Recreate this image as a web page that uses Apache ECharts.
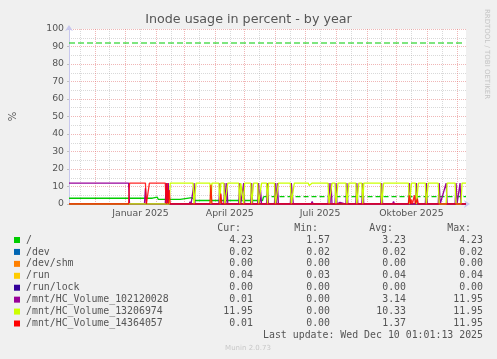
<!DOCTYPE html>
<html><head><meta charset="utf-8">
<script src="https://cdn.jsdelivr.net/npm/echarts@6/dist/echarts.min.js"></script>
<style>html,body{margin:0;padding:0;background:#f0f0f0;}#c{width:497px;height:359px;}</style>
</head><body><div id="c"></div>
<script>
// ---- time frame (days from 2024-11-05, 400 days) ----
const START = Date.UTC(2024, 10, 5);
const DAYS = 400;
const monthNames = ['Januar','Februar','März','April','Mai','Juni','Juli','August','September','Oktober','November','Dezember'];
const majorMonths = [[2024,12],[2025,1],[2025,2],[2025,3],[2025,4],[2025,5],[2025,6],[2025,7],[2025,8],[2025,9],[2025,10],[2025,11],[2025,12]];
const minorMonths = [[2024,11],[2024,12],[2025,1],[2025,2],[2025,3],[2025,4],[2025,5],[2025,6],[2025,7],[2025,8],[2025,9],[2025,10],[2025,11]];
const labelMonths = [[2025,1],[2025,4],[2025,7],[2025,10]];

// ---- legend table ----
const fieldNames = ['/', '/dev', '/dev/shm', '/run', '/run/lock', '/mnt/HC_Volume_102120028', '/mnt/HC_Volume_13206974', '/mnt/HC_Volume_14364057'];
const fieldColors = ['#00cc00', '#0066b3', '#ff8000', '#ffcc00', '#330099', '#990099', '#ccff00', '#ff0000'];
const curVals = ['4.23', '0.02', '0.00', '0.04', '0.00', '0.01', '11.95', '0.01'];
const minVals = ['1.57', '0.02', '0.00', '0.03', '0.00', '0.00', '0.00', '0.00'];
const avgVals = ['3.23', '0.02', '0.00', '0.04', '0.00', '3.14', '10.33', '1.37'];
const maxVals = ['4.23', '0.02', '0.00', '0.04', '0.00', '11.95', '11.95', '11.95'];
const warningData = [[0,92],[396,92]];

// ---- series data: [day offset, percent] ----
const rootSolid = [[0,3.3],[84,3.3],[85,3.9],[89,3.9],[90,2.6],[112,2.6],[114,3.6],[124,3.6],[127,2.0],[195,2.0],[196,4.2]];
const rootDashed = [[196,4.2],[300,4.2],[400,4.23]];
const devData = [[0,0.02],[400,0.02]];
const shmData = [[0,0],[400,0]];
const runData = [[0,0.04],[400,0.04]];
const lockData = [[0,0],[400,0]];
const vol102Data = [[0,11.95],[60,11.95],[61,0],[76,0],[77,9],[78,0],[97,0],[98,11.95],[99,0],[100,11.95],[101,0],
  [121,0],[122,1.2],[123,0],[125,0],[126,11.95],[127,0],[151,0],[152,11.95],[153,0],[156,0],[157,11.95],[158,0],[159,11.95],[160,0],
  [171,0],[172,11.95],[173,0],[175,0],[176,11.95],[177,0],[183,0],[184,11.95],[185,0],[190,0],[191,11.95],[192,0],[193,8],[194,0],
  [199,0],[200,11.95],[201,0],[207,0],[208,11.95],[209,0],[210,11.95],[211,0],[223,0],[224,11.95],[226,0],
  [244,0],[245,1.5],[246,0],[261,0],[262,11.95],[263,0],[264,11.95],[265,0],[268,0],[269,11.95],[270,0],[272,0],[273,1],[274,0],
  [279,0],[280,11.95],[281,0],[289,0],[290,11.95],[291,0],[295,0],[296,11.95],[297,0],[314,0],[315,11.95],[316,0],
  [326,0],[327,1.5],[328,0],[342,0],[343,11.95],[344,0],[349,0],[350,11.95],[351,0],[359,0],[360,11.95],[361,0],
  [372,0],[373,11.95],[374,0],[380,11.95],[381,0],[389,0],[390,11.95],[391,0],[394,11.95],[395,0],[400,0.01]];
const vol132Data = [[0,0],[101,0],[102,11.95],[125,11.95],[126,0],[127,0],[128,11.95],[142,11.95],[143,0],[144,11.95],
  [151,11.95],[152,0],[153,11.95],[156,11.95],[157,0],[159,0],[160,11.95],[171,11.95],[172,0],[173,11.95],[175,11.95],[176,0],[177,11.95],
  [183,11.95],[184,0],[185,0],[186,11.95],[190,11.95],[191,0],[193,0],[194,11.95],[199,11.95],[200,0],[201,11.95],
  [207,11.95],[208,0],[210,0],[211,11.95],[223,11.95],[224,0],[226,0],[227,11.95],[241,11.95],[242,10.5],[244,10.5],[245,11.95],
  [261,11.95],[262,0],[264,0],[265,11.95],[268,11.95],[269,0],[270,0],[271,11.95],[279,11.95],[280,0],[281,0],[282,11.95],
  [289,11.95],[290,0],[291,0],[292,11.95],[295,11.95],[296,0],[297,11.95],[314,11.95],[315,0],[316,0],[317,11.95],
  [342,11.95],[343,0],[344,0],[345,11.95],[349,11.95],[350,0],[351,0],[352,11.95],[359,11.95],[360,0],[361,0],[362,11.95],
  [372,11.95],[373,0],[380,0],[381,11.95],[389,11.95],[390,0],[395,0],[396,11.95],[400,11.95]];
const vol143Data = [[0,0],[60,0],[61,11.95],[77,11.95],[78,0],[80,0],[81,11.95],[97,11.95],[98,0],[99,11.95],[100,0],[101,8],[102,0],
  [142,0],[143,11],[144,0],[152,0],[153,6],[154,0],[342,0],[343,5],[344,0],[345,2.5],[346,0],[348,5],[349,0],[351,3],[352,0],[400,0.01]];

const dayOf = (y, m, d) => (Date.UTC(y, m - 1, d) - START) / 864e5;
const majorDays = majorMonths.map(p => dayOf(p[0], p[1], 1));
const minorDays = minorMonths.map(p => dayOf(p[0], p[1], 16));
const labelDays = labelMonths.map(p => dayOf(p[0], p[1], 16));
const fmtDay = v => { const d = new Date(START + v * 864e5); return monthNames[d.getUTCMonth()] + ' ' + d.getUTCFullYear(); };

const FONT = 'DejaVu Sans', MONO = 'DejaVu Sans Mono', TXT = '#555';
const AXIS = '#c8c8ee', MAJ = 'rgba(225,110,110,0.5)', MIN = 'rgba(160,160,160,0.4)';
const LW = 1.3;

const line = (name, data, color, extra) => Object.assign({
  type: 'line', name, data, symbol: 'none', xAxisIndex: 0, yAxisIndex: 0,
  lineStyle: { color, width: LW }, itemStyle: { color }, animation: false, silent: true
}, extra || {});

const series = [
  line('warning', warningData, '#00cc00', { lineStyle: { color: '#00cc00', width: 1.2, type: [6, 3] } }),
  line('/', rootSolid, fieldColors[0]),
  line('/', rootDashed, fieldColors[0], { lineStyle: { color: fieldColors[0], width: LW, type: [5, 3] } }),
  line(fieldNames[1], devData, fieldColors[1]),
  line(fieldNames[2], shmData, fieldColors[2]),
  line(fieldNames[3], runData, fieldColors[3]),
  line(fieldNames[4], lockData, fieldColors[4]),
  line(fieldNames[5], vol102Data, fieldColors[5]),
  line(fieldNames[6], vol132Data, fieldColors[6]),
  line(fieldNames[7], vol143Data, fieldColors[7], { lineStyle: { color: fieldColors[7], width: LW, opacity: 0.85 } })
];

// legend graphics
const graphic = [];
const txt = (x, y, text, opts) => graphic.push({ type: 'text', x, y, silent: true,
  style: Object.assign({ text, fontFamily: MONO, fontSize: 9.9, fill: TXT, align: 'right', verticalAlign: 'middle' }, opts || {}) });
txt(241, 228, 'Cur:'); txt(318, 228, 'Min:'); txt(393, 228, 'Avg:'); txt(471, 228, 'Max:');
fieldNames.forEach((n, i) => {
  const y = 240 + 11.93 * i;
  graphic.push({ type: 'rect', silent: true, shape: { x: 14, y: y - 3, width: 6, height: 6 }, style: { fill: fieldColors[i] } });
  txt(26, y, n, { align: 'left' });
  txt(253, y, curVals[i]); txt(330, y, minVals[i]); txt(406, y, avgVals[i]); txt(483, y, maxVals[i]);
});
txt(483, 335, 'Last update: Wed Dec 10 01:01:13 2025');
graphic.push({ type: 'text', x: 248.5, y: 19.5, silent: true, style: { text: 'Inode usage in percent - by year', fontFamily: FONT, fontSize: 12.7, fill: TXT, align: 'center', verticalAlign: 'middle' } });
graphic.push({ type: 'text', x: 248, y: 348, silent: true, style: { text: 'Munin 2.0.73', fontFamily: FONT, fontSize: 7, fill: '#c8c8c8', align: 'center', verticalAlign: 'middle' } });
graphic.push({ type: 'text', x: 487, y: 54, rotation: -Math.PI / 2, silent: true, style: { text: 'RRDTOOL / TOBI OETIKER', fontFamily: FONT, fontSize: 7, fill: '#c4c4c4', align: 'center', verticalAlign: 'middle' } });

const chart = echarts.init(document.getElementById('c'), null, { renderer: 'canvas' });
chart.setOption({
  animation: false,
  backgroundColor: '#f0f0f0',
  grid: { left: 66, right: 31, top: 29, bottom: 155, show: true, backgroundColor: '#ffffff', borderWidth: 0, containLabel: false },
  xAxis: [
    { type: 'value', min: 0, max: DAYS, position: 'bottom',
      axisLine: { show: true, onZero: false, lineStyle: { color: AXIS, width: 1 }, symbol: ['none', 'arrow'], symbolSize: [6, 6], symbolOffset: [0, 4] },
      axisTick: { show: false, customValues: majorDays },
      axisLabel: { customValues: labelDays, formatter: fmtDay, color: TXT, fontFamily: FONT, fontSize: 9.33, margin: 5 },
      splitLine: { show: true, lineStyle: { color: MAJ, type: [1, 1], width: 1 } } },
    { type: 'value', min: 0, max: DAYS, position: 'top',
      axisLine: { show: false }, axisTick: { show: false, customValues: minorDays }, axisLabel: { show: false },
      splitLine: { show: true, lineStyle: { color: MIN, type: [1, 1], width: 1 } } }
  ],
  yAxis: {
    type: 'value', min: 0, max: 100, interval: 10,
    name: '%', nameLocation: 'middle', nameGap: 51, nameRotate: 90, nameTextStyle: { color: TXT, fontFamily: FONT, fontSize: 10 },
    axisLine: { show: true, lineStyle: { color: AXIS, width: 1 }, symbol: ['none', 'arrow'], symbolSize: [6, 6], symbolOffset: [0, 4] },
    axisTick: { show: true, length: 2, lineStyle: { color: '#c0c0c0' } },
    axisLabel: { color: TXT, fontFamily: FONT, fontSize: 9.33, margin: 5 },
    splitLine: { show: true, lineStyle: { color: MAJ, type: [1, 1], width: 1 } },
    minorTick: { show: false, splitNumber: 2 },
    minorSplitLine: { show: true, lineStyle: { color: MIN, type: [1, 1], width: 1 } }
  },
  series,
  graphic
});
</script></body></html>
